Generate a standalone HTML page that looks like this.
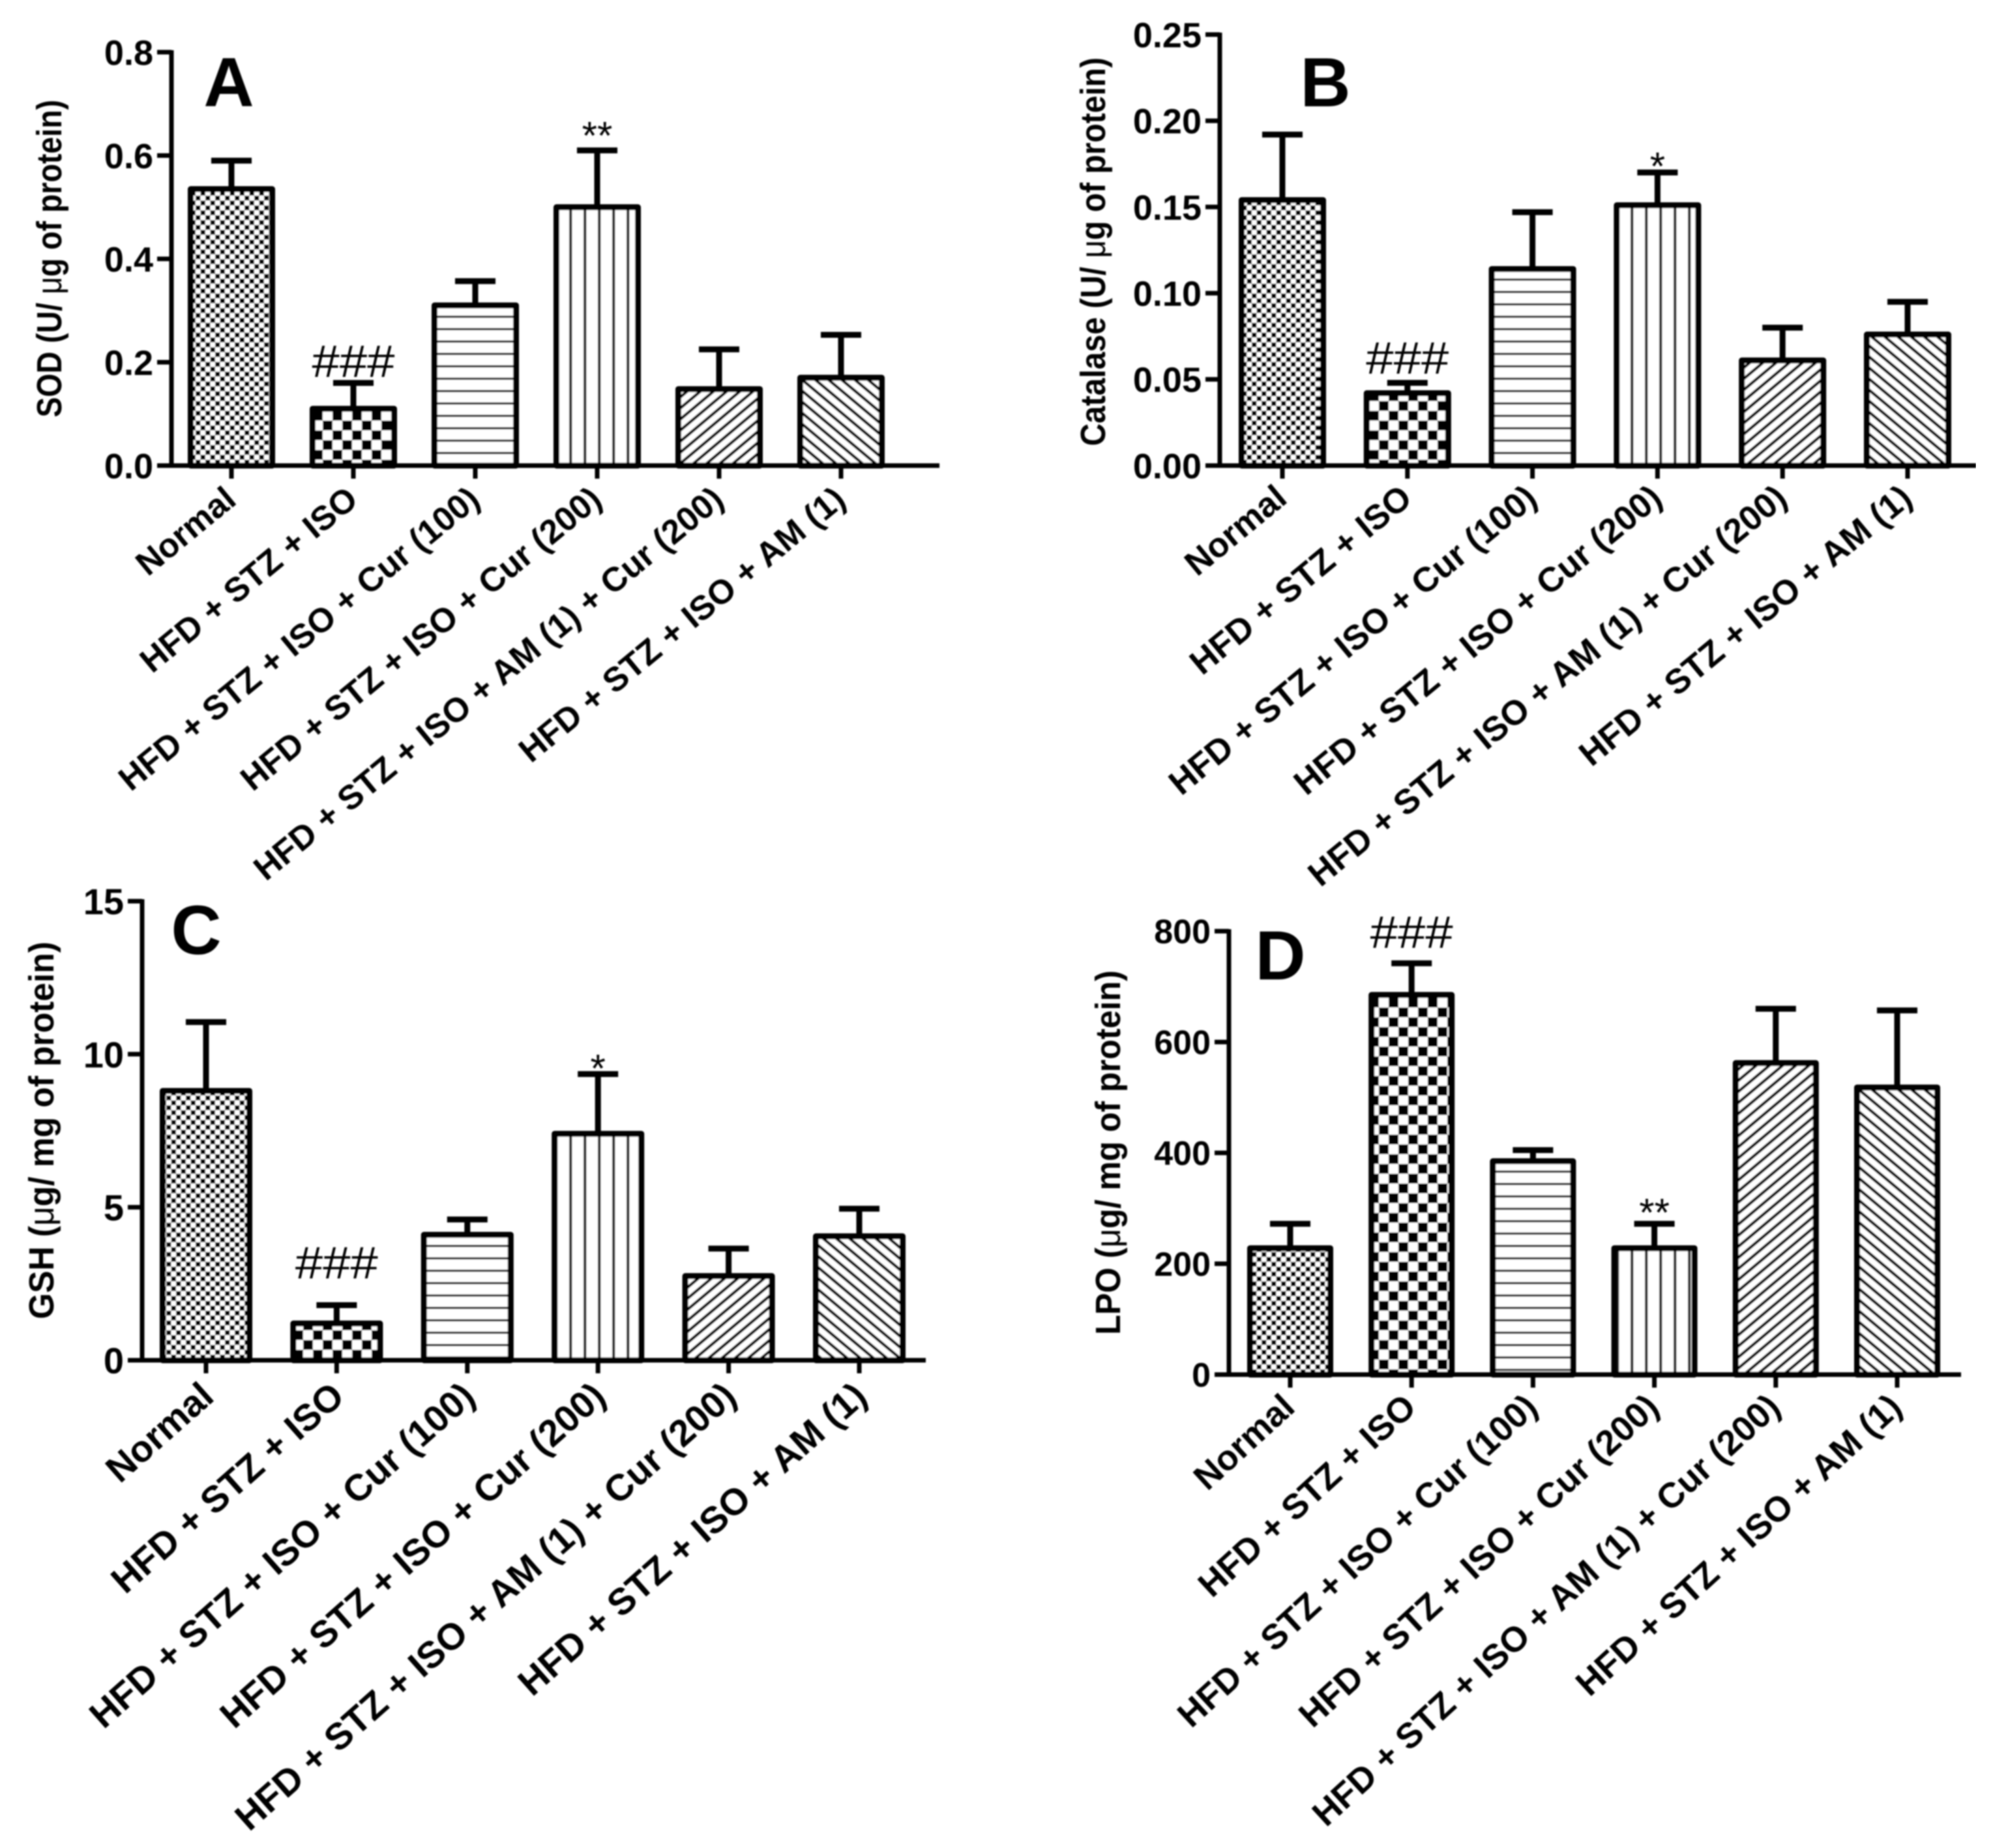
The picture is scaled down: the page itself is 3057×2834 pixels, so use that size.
<!DOCTYPE html>
<html>
<head>
<meta charset="utf-8">
<title>Antioxidant markers bar charts</title>
<style>
html,body{margin:0;padding:0;background:#fff;}
svg{display:block;}
text{font-family:"Liberation Sans",sans-serif;fill:#000;}
</style>
</head>
<body>
<svg id="figure" xmlns="http://www.w3.org/2000/svg" width="3057" height="2834" viewBox="0 0 3057 2834">
<defs>
<filter id="soft" x="0" y="0" width="100%" height="100%"><feGaussianBlur stdDeviation="1.1"/></filter>
<pattern id="p0" patternUnits="userSpaceOnUse" width="15" height="15"><rect width="15" height="15" fill="#fff"/><rect width="7.5" height="7.5" fill="#000"/><rect x="7.5" y="7.5" width="7.5" height="7.5" fill="#000"/></pattern>
<pattern id="p1" patternUnits="userSpaceOnUse" width="30" height="30"><rect width="30" height="30" fill="#fff"/><rect width="15" height="15" fill="#000"/><rect x="15" y="15" width="15" height="15" fill="#000"/></pattern>
<pattern id="p2" patternUnits="userSpaceOnUse" width="19" height="19"><rect width="19" height="19" fill="#fff"/><rect y="9" width="19" height="3.5" fill="#000"/></pattern>
<pattern id="p3" patternUnits="userSpaceOnUse" width="22" height="22"><rect width="22" height="22" fill="#fff"/><rect x="15" width="4.5" height="22" fill="#222"/></pattern>
<pattern id="p4" patternUnits="userSpaceOnUse" width="13" height="13" patternTransform="rotate(-40)"><rect width="13" height="13" fill="#fff"/><rect y="4" width="13" height="4.5" fill="#000"/></pattern>
<pattern id="p5" patternUnits="userSpaceOnUse" width="13" height="13" patternTransform="rotate(40)"><rect width="13" height="13" fill="#fff"/><rect y="4" width="13" height="4.5" fill="#000"/></pattern>
</defs>
<g id="root" filter="url(#soft)"></g>
</svg>
<script>
// ---------- chart data ----------
const categories = ["Normal", "HFD + STZ + ISO", "HFD + STZ + ISO + Cur (100)", "HFD + STZ + ISO + Cur (200)", "HFD + STZ + ISO + AM (1) + Cur (200)", "HFD + STZ + ISO + AM (1)"];

const sodMeans = [0.535, 0.11, 0.31, 0.50, 0.148, 0.17];
const sodErrors = [0.055, 0.05, 0.047, 0.11, 0.077, 0.083];
const sodTicks = [0.0, 0.2, 0.4, 0.6, 0.8];
const sodTickLabels = ["0.0", "0.2", "0.4", "0.6", "0.8"];
const sodMarks = ["", "###", "", "**", "", ""];

const catalaseMeans = [0.154, 0.042, 0.114, 0.151, 0.061, 0.076];
const catalaseErrors = [0.038, 0.006, 0.033, 0.019, 0.019, 0.019];
const catalaseTicks = [0, 0.05, 0.10, 0.15, 0.20, 0.25];
const catalaseTickLabels = ["0.00", "0.05", "0.10", "0.15", "0.20", "0.25"];
const catalaseMarks = ["", "###", "", "*", "", ""];

const gshMeans = [8.8, 1.2, 4.1, 7.4, 2.75, 4.05];
const gshErrors = [2.25, 0.6, 0.5, 1.95, 0.9, 0.9];
const gshTicks = [0, 5, 10, 15];
const gshTickLabels = ["0", "5", "10", "15"];
const gshMarks = ["", "###", "", "*", "", ""];

const lpoMeans = [228, 685, 385, 228, 562, 518];
const lpoErrors = [44, 57, 20, 44, 98, 139];
const lpoTicks = [0, 200, 400, 600, 800];
const lpoTickLabels = ["0", "200", "400", "600", "800"];
const lpoMarks = ["", "###", "", "**", "", ""];

// ---------- panel layout ----------
const panels = [
  {id:"a", letter:"A", letterX:351, letterY:163, title:["SOD (U/ ","μ","g of protein)"], titleX:94, titleBottom:640, titleLen:487,
   means:sodMeans, errors:sodErrors, ticks:sodTicks, labels:sodTickLabels, marks:sodMarks,
   axisX:263, axisEnd:1441, top:80, base:714, max:0.8, first:355, step:187, barW:125, tickFs:54, hashGap:9, starGap:2,
   labelFs:52, labelAngle:39.5, labelDx:10, labelDy:57},
  {id:"b", letter:"B", letterX:2033, letterY:163, title:["Catalase (U/ ","μ","g of protein)"], titleX:1695, titleBottom:684, titleLen:596,
   means:catalaseMeans, errors:catalaseErrors, ticks:catalaseTicks, labels:catalaseTickLabels, marks:catalaseMarks,
   axisX:1871, axisEnd:3031, top:53, base:714, max:0.25, first:1967, step:191.8, barW:125, tickFs:54, hashGap:14, starGap:-11,
   labelFs:53, labelAngle:39.5, labelDx:10, labelDy:55},
  {id:"c", letter:"C", letterX:301, letterY:1463, title:["GSH (","μ","g/ mg of protein)"], titleX:82, titleBottom:2023, titleLen:579,
   means:gshMeans, errors:gshErrors, ticks:gshTicks, labels:gshTickLabels, marks:gshMarks,
   axisX:218, axisEnd:1420, top:1382, base:2086, max:15, first:316, step:200.4, barW:133, tickFs:56, hashGap:41, starGap:-12,
   labelFs:57, labelAngle:41.5, labelDx:15, labelDy:60},
  {id:"d", letter:"D", letterX:1964, letterY:1502, title:["LPO (","μ","g/ mg of protein)"], titleX:1718, titleBottom:2047, titleLen:559,
   means:lpoMeans, errors:lpoErrors, ticks:lpoTicks, labels:lpoTickLabels, marks:lpoMarks,
   axisX:1885, axisEnd:3008, top:1428, base:2108, max:800, first:1979, step:186.2, barW:123, tickFs:52, hashGap:24, starGap:-3,
   labelFs:54, labelAngle:42.5, labelDx:10, labelDy:54}
];

const NS = "http://www.w3.org/2000/svg";
const root = document.getElementById("root");

function make(tag, attrs, parent, text) {
  const el = document.createElementNS(NS, tag);
  for (const k in attrs) el.setAttribute(k, attrs[k]);
  if (text !== undefined) el.textContent = text;
  parent.appendChild(el);
  return el;
}

panels.forEach(function (p) {
  const yScale = function (v) { return p.base - (v / p.max) * (p.base - p.top); };
  const xScale = function (i) { return p.first + i * p.step; };

  const g = make("g", {}, root);
  
  

  // bars and error bars
  categories.forEach(function (cat, i) {
    const cx = xScale(i);
    const yv = yScale(p.means[i]);
    const yt = yScale(p.means[i] + p.errors[i]);

    const err = make("path", {d: "M" + cx + " " + yv + "V" + yt + "M" + (cx - 31) + " " + yt + "H" + (cx + 31), stroke: "#000", "stroke-width": 9, fill: "none"}, g);
    
    

    const bar = make("rect", {x: cx - p.barW / 2, y: yv, width: p.barW, height: p.base - yv, fill: "url(#p" + i + ")", stroke: "#000", "stroke-width": 9, "stroke-linejoin": "round"}, g);
    
    

    const tick = make("line", {x1: cx, x2: cx, y1: p.base, y2: p.base + 20, stroke: "#000", "stroke-width": 7}, g);
    
    

    const ax = cx + p.labelDx, ay = p.base + p.labelDy;
    const lab = make("text", {x: ax, y: ay, "text-anchor": "end", "font-size": p.labelFs, "font-weight": "bold", transform: "rotate(-" + p.labelAngle + " " + ax + " " + ay + ")"}, g, cat);
    
    

    const mark = p.marks[i];
    if (mark) {
      const isHash = mark.charAt(0) === "#";
      const m = make("text", {x: cx, y: yt - (isHash ? p.hashGap : p.starGap), "text-anchor": "middle", "font-size": isHash ? 70 : 60}, g, mark);
      if (isHash) { m.setAttribute("textLength", 127); m.setAttribute("lengthAdjust", "spacingAndGlyphs"); }
      
      
    }
  });

  // axes
  const yAxis = make("line", {x1: p.axisX, x2: p.axisX, y1: p.top - 3, y2: p.base + 3, stroke: "#000", "stroke-width": 7}, g);
  
  

  const xAxis = make("line", {x1: p.axisX - 22, x2: p.axisEnd, y1: p.base, y2: p.base, stroke: "#000", "stroke-width": 7}, g);
  
  

  p.ticks.forEach(function (t, i) {
    const y = yScale(t);
    const tk = make("line", {x1: p.axisX - 22, x2: p.axisX, y1: y, y2: y, stroke: "#000", "stroke-width": 7}, g);
    
    

    const tl = make("text", {x: p.axisX - 28, y: y + p.tickFs * 0.36, "text-anchor": "end", "font-size": p.tickFs, "font-weight": "bold"}, g, p.labels[i]);
    
    
  });

  // y-axis title
  const title = make("text", {x: p.titleX, y: p.titleBottom, "font-size": 54, "font-weight": "bold", transform: "rotate(-90 " + p.titleX + " " + p.titleBottom + ")", textLength: p.titleLen, lengthAdjust: "spacingAndGlyphs"}, g);
  
  
  make("tspan", {}, title, p.title[0]);
  make("tspan", {"font-weight": "normal"}, title, p.title[1]);
  make("tspan", {}, title, p.title[2]);

  // panel letter
  const letter = make("text", {x: p.letterX, y: p.letterY, "text-anchor": "middle", "font-size": 107, "font-weight": "bold"}, g, p.letter);
  
  
});
</script>
</body>
</html>
